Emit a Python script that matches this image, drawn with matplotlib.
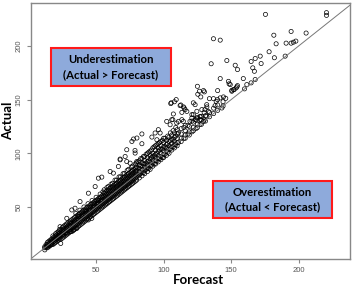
import matplotlib
matplotlib.use("Agg")
import matplotlib.pyplot as plt
from matplotlib.patches import Rectangle

# dense band: one forecast value per row, with the actual values seen at it
band_forecast = [12, 13, 14, 15, 16, 17, 18, 19, 20, 21, 22, 23, 24, 25, 26, 27, 28, 29,
                 30, 31, 32, 33, 34, 35, 36, 37, 38, 39, 40, 41, 42, 43, 44, 45, 46, 47,
                 48, 49, 50, 51, 52, 53, 54, 55, 56, 57, 58, 59, 60, 61, 62, 63, 64, 65,
                 66, 67, 68, 69, 70, 71, 72, 73, 74, 75, 76, 77, 78, 79, 80, 82, 84, 86,
                 88, 90, 92, 94, 96, 98, 100, 102, 104, 106, 108, 110, 113, 116, 119, 122,
                 125, 128, 131, 134, 137, 140, 144,
                 81, 83, 85, 87, 89, 91, 93, 95, 97, 99, 101, 103, 105, 107, 109,
                 111, 115, 118, 121, 124, 127, 130]
band_actual = [
    [10, 12, 13], [12, 13, 15], [12, 14, 15, 17], [13, 14, 16, 18], [14, 15, 17, 19],
    [15, 16, 18, 20], [15, 17, 19, 21, 23], [16, 18, 20, 22], [17, 19, 21, 23, 25],
    [18, 20, 21, 24, 26], [19, 21, 23, 25, 27], [20, 22, 24, 26, 29], [20, 23, 25, 27, 29],
    [21, 24, 26, 28, 31], [22, 24, 27, 29, 32], [23, 26, 28, 30, 33], [24, 26, 29, 31, 34],
    [25, 28, 30, 32, 35], [26, 28, 31, 33, 36], [27, 29, 32, 35, 37], [27, 30, 33, 35, 38],
    [28, 31, 34, 36, 39], [29, 32, 35, 37, 40], [30, 33, 36, 38, 41, 44], [31, 34, 37, 39, 42],
    [32, 35, 38, 41, 43], [33, 36, 39, 41, 44, 47], [34, 37, 40, 42, 45], [35, 38, 41, 43, 46],
    [36, 39, 42, 44, 47, 50], [37, 40, 43, 46, 48], [38, 41, 44, 46, 49], [39, 42, 45, 47, 50, 53],
    [40, 43, 46, 48, 51], [41, 44, 47, 50, 52], [42, 45, 48, 50, 53, 56], [43, 46, 49, 51, 54],
    [44, 47, 50, 53, 55], [45, 48, 51, 53, 56, 59], [46, 49, 52, 54, 57], [47, 50, 53, 56, 58],
    [48, 51, 54, 56, 59, 62], [49, 52, 55, 57, 60], [50, 53, 56, 59, 61, 64], [51, 54, 57, 60, 63, 66],
    [52, 55, 58, 61, 64], [53, 56, 59, 62, 65, 68], [54, 57, 60, 63, 66, 69], [55, 58, 61, 64, 67],
    [56, 59, 62, 65, 68, 71], [57, 60, 63, 66, 69, 72], [58, 61, 64, 67, 70], [59, 62, 65, 68, 71, 75],
    [60, 63, 66, 69, 72, 75], [61, 64, 67, 70, 73], [62, 65, 68, 71, 74, 78], [63, 66, 69, 72, 75, 78],
    [64, 67, 70, 73, 76], [65, 68, 71, 74, 77, 81], [66, 69, 72, 75, 78, 81], [67, 70, 73, 76, 79],
    [68, 71, 74, 77, 80, 84], [69, 72, 75, 78, 81, 85], [70, 73, 76, 79, 82], [71, 74, 77, 80, 83, 87],
    [72, 75, 78, 81, 84, 88], [73, 76, 79, 82, 85], [74, 77, 80, 83, 86, 90], [75, 78, 81, 84, 87, 91],
    [77, 80, 83, 86, 89, 93], [79, 82, 85, 88, 91, 95], [81, 84, 87, 90, 93, 97], [83, 86, 89, 92, 96, 100],
    [85, 88, 92, 95, 98, 102], [88, 91, 94, 97, 100, 105], [90, 93, 96, 99, 103, 107], [92, 95, 98, 102, 105, 109],
    [94, 97, 100, 104, 107, 111], [96, 99, 102, 106, 110, 114], [98, 102, 105, 108, 112],
    [100, 104, 107, 111, 115], [103, 106, 109, 113, 117], [105, 108, 111, 115, 119],
    [107, 110, 114, 118, 122], [111, 114, 118, 123], [114, 117, 121, 126], [117, 120, 125],
    [121, 124, 129], [124, 127, 133], [127, 131], [130, 135], [134, 138], [137, 142],
    [140, 145], [144, 148],
    [79, 86, 92], [81, 88, 95], [82, 90, 97], [85, 91, 99], [86, 93, 101], [89, 96, 103],
    [90, 98, 106], [93, 100, 108], [95, 103, 110], [96, 104, 112], [99, 106, 114],
    [101, 109, 116], [104, 112, 119], [106, 113, 121], [108, 116, 124],
    [110, 119], [114, 124], [118, 126], [120, 130], [123, 131], [127, 134], [131, 138],
]

# scattered points outside the band
outlier_forecast = [23.8, 27.0, 30.7, 33.2, 35.7, 44.3, 46.8, 32.0, 34.4, 38.1, 28.3, 23.3,
                    51.7, 54.2, 49.3, 44.3, 60.4, 62.8, 66.5, 67.8, 71.5, 78.9, 75.2, 80.1,
                    72.7, 78.8, 67.8, 72.7, 96.1, 97.4, 93.7, 91.3, 95.0, 83.9, 80.2, 77.7,
                    83.9, 76.5, 102.3, 106.0, 109.7, 114.6, 119.5, 124.5, 127.0, 129.5, 131.9,
                    105.6, 108.0, 112.2, 115.2, 117.2, 113.5, 120.9, 123.3, 131.9, 130.6, 133.1,
                    128.1, 107.2, 106.8, 104.8, 111.0, 113.5, 122.0, 120.9, 123.3, 127.0,
                    114.7, 115.9, 133.9, 136.9, 138.9, 138.1, 143.1, 132.0, 128.3, 124.6,
                    141.9, 139.9, 144.3, 146.0, 109.3, 105.3, 112.7, 122.0, 125.0, 129.5,
                    130.2, 140.0, 126.5, 125.3, 127.5, 150.5, 152.2, 153.7, 154.7, 141.9,
                    148.0, 148.5, 135.2, 146.8, 136.9, 141.9, 153.0, 154.7, 159.0, 167.8,
                    164.8, 161.6, 159.9, 154.2, 151.7, 150.5, 149.3, 166.0, 167.2, 171.5,
                    167.8, 164.8, 172.2, 178.1, 182.0, 190.0, 183.3, 190.7, 194.4, 196.1,
                    197.9, 181.6, 194.4, 205.5, 175.4, 220.6, 220.6]
outlier_actual = [16.0, 25.4, 27.0, 28.5, 30.0, 37.9, 39.4, 47.2, 48.8, 55.0, 39.4, 31.6,
                  76.8, 77.8, 69.0, 62.8, 83.0, 81.5, 87.7, 93.9, 97.0, 100.2, 90.8, 92.3,
                  103.3, 102.6, 94.6, 92.3, 122.0, 118.9, 118.9, 115.1, 112.6, 118.0, 114.2, 113.3,
                  108.9, 111.0, 129.7, 131.3, 128.2, 129.7, 129.7, 132.9, 131.3, 129.7, 134.4,
                  147.0, 148.0, 144.4, 142.2, 139.0, 138.1, 136.0, 145.3, 145.3, 140.7, 139.0,
                  134.4, 136.6, 131.3, 126.6, 129.7, 131.3, 136.0, 132.9, 131.3, 134.4,
                  143.2, 140.7, 150.9, 150.9, 148.4, 144.4, 142.2, 143.2, 140.7, 139.1,
                  151.6, 150.0, 152.5, 151.2, 150.0, 146.3, 145.0, 147.0, 162.4, 158.4,
                  157.2, 158.4, 157.8, 155.0, 152.5, 157.8, 159.3, 160.9, 163.0, 169.6,
                  167.0, 164.7, 183.4, 186.4, 206.7, 205.4, 182.0, 178.0, 169.6, 168.7,
                  165.6, 164.0, 160.0, 161.9, 159.3, 158.7, 164.0, 179.6, 176.4, 190.5,
                  188.3, 185.5, 183.6, 194.6, 189.0, 190.5, 202.0, 202.6, 202.6, 203.5,
                  204.5, 210.0, 213.5, 212.0, 229.4, 231.0, 228.5]

x_ticks = [50, 100, 150, 200]
y_ticks = [50, 100, 150, 200]

forecast = []
actual = []
for f, vals in zip(band_forecast, band_actual):
    for a in vals:
        forecast.append(f)
        actual.append(a)
forecast += outlier_forecast
actual += outlier_actual

fig = plt.figure(figsize=(3.54, 2.89), dpi=100)
ax = fig.add_axes([0.0876, 0.1038, 0.9011, 0.8858])

ax.scatter(forecast, actual, s=9, facecolors='none', edgecolors='black', linewidths=0.5)
ax.axline((0, 0), slope=1, color='#777777', linewidth=0.7)

ax.set_xlim(1.8, 238)
ax.set_ylim(1.5, 240)
ax.set_xticks(x_ticks)
ax.set_yticks(y_ticks)
ax.tick_params(length=3, width=0.8, color='#888888', labelcolor='#555555',
               labelsize=5.5, pad=3)
for lab in ax.get_yticklabels():
    lab.set_rotation(90)
    lab.set_va('center')
for lab in ax.get_xticklabels() + ax.get_yticklabels():
    lab.set_family('Liberation Sans')
for s in ax.spines.values():
    s.set_color('#888888')
    s.set_linewidth(1.0)

ax.set_xlabel('Forecast', fontsize=9.5, fontweight='bold', family='Lato')
ax.set_ylabel('Actual', fontsize=9.5, fontweight='bold', family='Lato')
ax.xaxis.set_label_coords(0.525, -0.06)
ax.yaxis.set_label_coords(-0.052, 0.54)

boxes = [
    ((0.062, 0.676), 0.376, 0.147, 'Underestimation\n(Actual > Forecast)'),
    ((0.570, 0.159), 0.375, 0.146, 'Overestimation\n(Actual < Forecast)'),
]
for (x0, y0), w, h, txt in boxes:
    ax.add_patch(Rectangle((x0, y0), w, h, transform=ax.transAxes,
                           facecolor='#8EAADB', edgecolor='#FF1A1A', linewidth=1.5, zorder=5))
    ax.text(x0 + w / 2, y0 + h / 2, txt, transform=ax.transAxes, ha='center', va='center',
            fontsize=8.2, fontweight='bold', family='Lato', linespacing=1.45, zorder=6)

fig.savefig('out.png', dpi=100)
